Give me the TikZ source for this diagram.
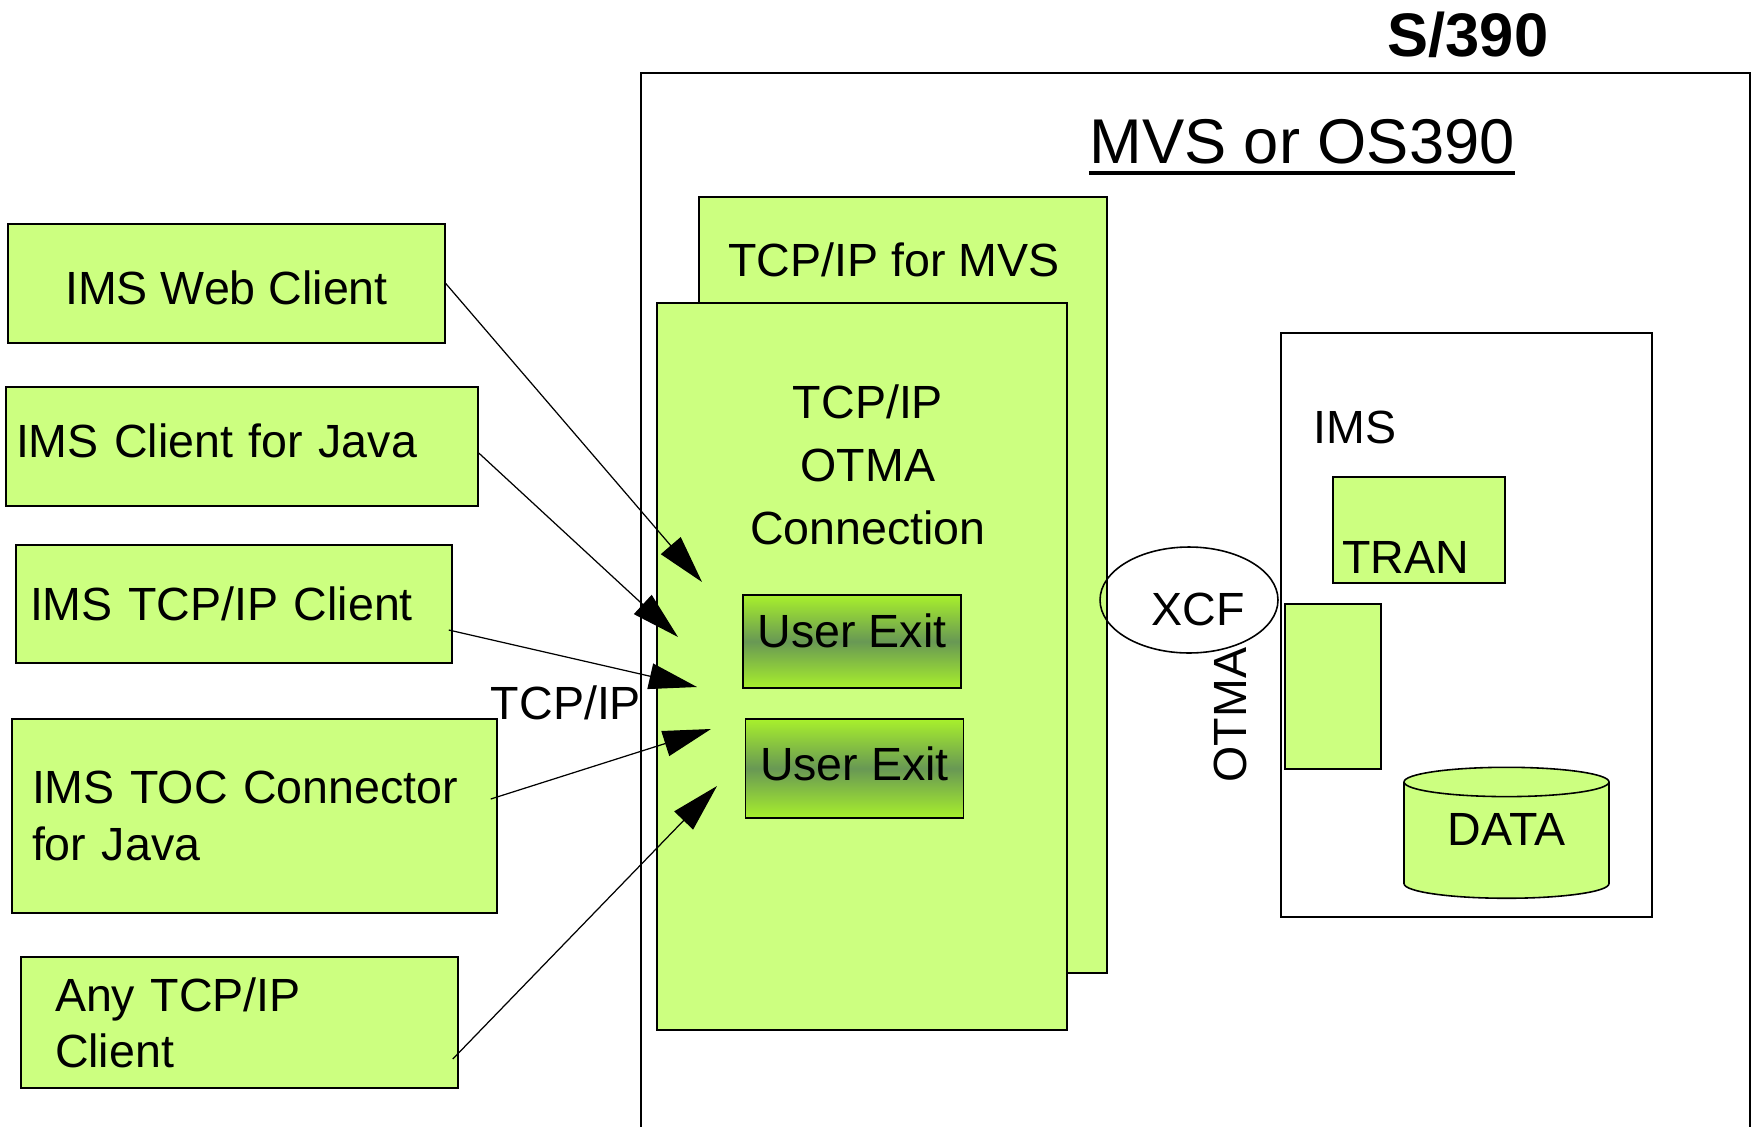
\documentclass[tikz,border=0pt]{standalone}
\usepackage{fontspec}
\setmainfont{Liberation Sans}
\usetikzlibrary{arrows.meta}
\usetikzlibrary{positioning, shapes.geometric}

\definecolor{limegreen}{RGB}{204,255,128}
\definecolor{exitbright}{RGB}{168,240,44}
\definecolor{exitdark}{RGB}{104,152,84}

\newcommand{\bigfont}{\fontsize{26.5}{32}\selectfont}

\begin{document}
\begin{tikzpicture}[x=0.02cm,y=-0.02cm,
                >={Triangle[length=0.96cm,width=0.52cm]},
                font=\bigfont,
                box/.style={draw,line width=0.9pt,fill=limegreen,inner sep=0pt},
                client node/.style={box,align=left,inner ysep=0pt},
                exit node/.style={box,line width=1.1pt,minimum width=4.36cm,
                    top color=exitbright,bottom color=exitbright,middle color=exitdark},
                frame/.style={draw,line width=1pt},
                feed/.style={->,line width=0.7pt}]

\useasboundingbox (0,0) rectangle (1754,1126);

% the S/390 box runs off the bottom of the page
\draw[frame] (641,1160) -- (641,73) -- (1750,73) -- (1750,1160);
\node[font=\fontsize{35}{40}\selectfont\bfseries] (s390) at (1468,35) {S/390};
\node[font=\fontsize{36}{42}\selectfont,inner sep=0pt,anchor=base] (mvs) at (1302,163) {MVS or OS390};
\draw[line width=2.4pt] ([yshift=-0.2cm]mvs.base west) -- ([yshift=-0.2cm]mvs.base east);

% TCP/IP stack
\node[box,minimum width=8.16cm,minimum height=15.52cm] (mvsstack) at (903,585) {};
\node[anchor=base] (mvstitle) at (894,276) {TCP/IP for MVS};
\node[box,minimum width=8.2cm,minimum height=14.54cm] (otma) at (862,666.5) {};
\node[align=center,font=\fontsize{26.5}{36}\selectfont] (otmatext) at (868,465) {TCP/IP\\OTMA\\Connection};
\node[exit node,minimum height=1.86cm,text depth=0.44cm] (exit1) at (852,641.5) {User Exit};
\node[exit node,minimum height=1.98cm,text depth=0.18cm] (exit2) at (854.5,768.5) {User Exit};

% clients
\node[box,minimum width=8.74cm,minimum height=2.38cm,text height=0.86cm] (web) at (226.5,283.5) {IMS Web Client};
\node[client node,inner xsep=0.2cm,text width=9.04cm,minimum height=2.38cm,text depth=0.24cm] (java) at (242,446.5) {IMS Client for Java};
\node[client node,inner xsep=0.28cm,text width=8.16cm,minimum height=2.36cm] (tcpclient) at (234,604) {IMS TCP/IP Client};
\node[client node,inner xsep=0.4cm,text width=8.9cm,minimum height=3.88cm] (toc) at (254.5,816) {IMS TOC Connector\\for Java};
\node[client node,inner xsep=0.68cm,text width=7.38cm,minimum height=2.62cm] (any) at (239.5,1022.5) {Any TCP/IP\\Client};
\node (tcplabel) at (566,703) {TCP/IP};

% XCF and IMS
\node[ellipse,draw,line width=0.9pt,minimum width=3.56cm,minimum height=2.12cm,inner sep=0pt,
      label={[xshift=0.18cm,yshift=-0.18cm]center:XCF}] (xcf) at (1189,600) {};
\node[rotate=90] (otmalabel) at (1230,715) {OTMA};
\node[draw,line width=0.9pt,minimum width=7.42cm,minimum height=11.68cm] (ims) at (1466.5,625) {};
\node[anchor=base west,inner sep=0pt] (imslabel) at (1313,443) {IMS};
\node[box,minimum width=3.44cm,minimum height=2.12cm] (tran) at (1419,530) {};
\node[anchor=base west,inner sep=0pt] (tranlabel) at (1342,573) {TRAN};
\node[box,minimum width=1.92cm,minimum height=3.3cm] (region) at (1333,686.5) {};
\node[box,cylinder,shape border rotate=90,aspect=0.25,minimum width=4.1cm,minimum height=2.62cm,
      text depth=0.44cm] (data) at (1506.5,840.5) {DATA};

\coordinate (tip1) at (702,582);
\coordinate (tip2) at (678,637);
\coordinate (tip3) at (697,687);
\coordinate (tip4) at (711,729);
\coordinate (tip5) at (717,786);

\path[feed]
    (web.east)                              edge (tip1)
    ([yshift=-0.13cm]java.east)             edge (tip2)
    ([xshift=-0.08cm,yshift=-0.52cm]tcpclient.east) edge (tip3)
    ([xshift=-0.14cm,yshift=0.34cm]toc.east)        edge (tip4)
    ([xshift=-0.12cm,yshift=-0.73cm]any.east)       edge (tip5);
\end{tikzpicture}
\end{document}
